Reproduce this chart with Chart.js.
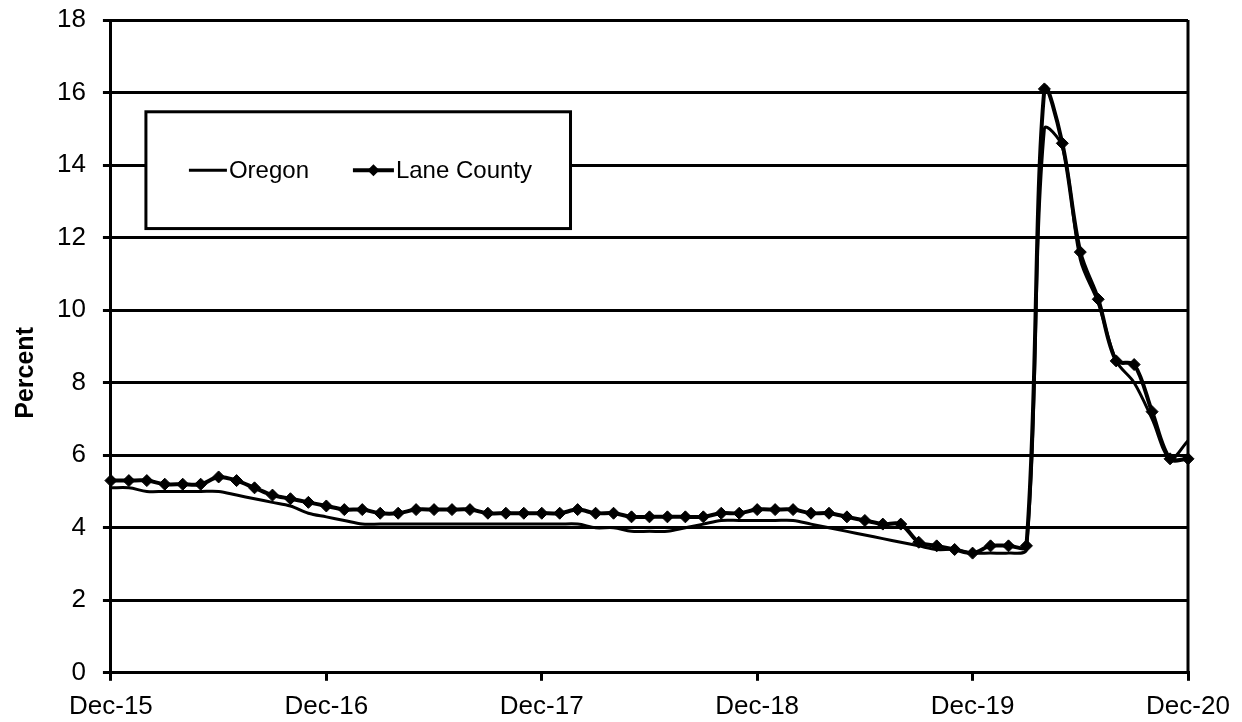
<!DOCTYPE html>
<html>
<head>
<meta charset="utf-8">
<script src="https://cdn.jsdelivr.net/npm/chart.js@4.4.1/dist/chart.umd.min.js"></script>
<style>
  html, body { margin: 0; padding: 0; background: #fff; }
  #wrap { position: relative; width: 1242px; height: 722px; }
</style>
</head>
<body>
<div id="wrap"><canvas id="chart"></canvas></div>
<script>
// monthly, Dec-15 .. Dec-20
var MONTHS = [
  'Dec-15',
  'Jan-16', 'Feb-16', 'Mar-16', 'Apr-16', 'May-16', 'Jun-16', 'Jul-16', 'Aug-16', 'Sep-16', 'Oct-16', 'Nov-16', 'Dec-16',
  'Jan-17', 'Feb-17', 'Mar-17', 'Apr-17', 'May-17', 'Jun-17', 'Jul-17', 'Aug-17', 'Sep-17', 'Oct-17', 'Nov-17', 'Dec-17',
  'Jan-18', 'Feb-18', 'Mar-18', 'Apr-18', 'May-18', 'Jun-18', 'Jul-18', 'Aug-18', 'Sep-18', 'Oct-18', 'Nov-18', 'Dec-18',
  'Jan-19', 'Feb-19', 'Mar-19', 'Apr-19', 'May-19', 'Jun-19', 'Jul-19', 'Aug-19', 'Sep-19', 'Oct-19', 'Nov-19', 'Dec-19',
  'Jan-20', 'Feb-20', 'Mar-20', 'Apr-20', 'May-20', 'Jun-20', 'Jul-20', 'Aug-20', 'Sep-20', 'Oct-20', 'Nov-20', 'Dec-20'
];

var TICK_LABELS = ['Dec-15', 'Dec-16', 'Dec-17', 'Dec-18', 'Dec-19', 'Dec-20'];

var OREGON = [
  5.1,
  5.1, 5.0, 5.0, 5.0, 5.0, 5.0, 4.9, 4.8, 4.7, 4.6, 4.4, 4.3,
  4.2, 4.1, 4.1, 4.1, 4.1, 4.1, 4.1, 4.1, 4.1, 4.1, 4.1, 4.1,
  4.1, 4.1, 4.0, 4.0, 3.9, 3.9, 3.9, 4.0, 4.1, 4.2, 4.2, 4.2,
  4.2, 4.2, 4.1, 4.0, 3.9, 3.8, 3.7, 3.6, 3.5, 3.4, 3.4, 3.3,
  3.3, 3.3, 3.4, 15.0, 14.5, 11.4, 10.2, 8.6, 8.0, 7.0, 5.9, 6.4
];

var LANE_COUNTY = [
  5.3,
  5.3, 5.3, 5.2, 5.2, 5.2, 5.4, 5.3, 5.1, 4.9, 4.8, 4.7, 4.6,
  4.5, 4.5, 4.4, 4.4, 4.5, 4.5, 4.5, 4.5, 4.4, 4.4, 4.4, 4.4,
  4.4, 4.5, 4.4, 4.4, 4.3, 4.3, 4.3, 4.3, 4.3, 4.4, 4.4, 4.5,
  4.5, 4.5, 4.4, 4.4, 4.3, 4.2, 4.1, 4.1, 3.6, 3.5, 3.4, 3.3,
  3.5, 3.5, 3.5, 16.1, 14.6, 11.6, 10.3, 8.6, 8.5, 7.2, 5.9, 5.9
];

var Y_MIN = 0;
var Y_MAX = 18;
var Y_STEP = 2;
var Y_TITLE = 'Percent';

var FONT = "Arial, 'Liberation Sans', sans-serif";
var INK = '#000000';

function isYearTick(i) {
  return TICK_LABELS.indexOf(MONTHS[i]) >= 0;
}

// right border of plot, the y title (sits a bit below centre in the original)
// and the boxed legend inside the plot area
var frameAndLegend = {
  id: 'frameAndLegend',
  afterDraw: function (chart) {
    var ctx = chart.ctx;
    var a = chart.chartArea;
    var w = a.right - a.left;
    var h = a.bottom - a.top;

    ctx.save();
    ctx.strokeStyle = INK;
    ctx.fillStyle = INK;
    ctx.lineWidth = 3;
    ctx.beginPath();
    ctx.moveTo(a.right, a.top);
    ctx.lineTo(a.right, a.bottom);
    ctx.stroke();

    ctx.save();
    ctx.translate(a.left - 85, a.top + 0.5406 * h);
    ctx.rotate(-Math.PI / 2);
    ctx.font = 'bold 25px ' + FONT;
    ctx.textAlign = 'center';
    ctx.textBaseline = 'middle';
    ctx.fillText(Y_TITLE, 0, 0);
    ctx.restore();

    var bx = a.left + 0.0325 * w;
    var by = a.top + 0.1406 * h;
    var bw = 0.3942 * w;
    var bh = 0.1789 * h;
    ctx.fillStyle = '#ffffff';
    ctx.fillRect(bx, by, bw, bh);
    ctx.lineWidth = 3;
    ctx.strokeRect(bx, by, bw, bh);

    var cy = by + bh / 2;
    ctx.font = '24px ' + FONT;
    ctx.textBaseline = 'middle';
    ctx.textAlign = 'left';
    ctx.fillStyle = INK;

    var ds = chart.data.datasets;
    // Oregon sample
    ctx.lineWidth = ds[0].borderWidth;
    ctx.beginPath();
    ctx.moveTo(bx + 43, cy);
    ctx.lineTo(bx + 81, cy);
    ctx.stroke();
    ctx.fillText(ds[0].label, bx + 83, cy + 1);

    // Lane County sample
    ctx.lineWidth = ds[1].borderWidth;
    ctx.beginPath();
    ctx.moveTo(bx + 207, cy);
    ctx.lineTo(bx + 248, cy);
    ctx.stroke();
    var mx = bx + 227.5, r = 6;
    ctx.beginPath();
    ctx.moveTo(mx, cy - r);
    ctx.lineTo(mx + r, cy);
    ctx.lineTo(mx, cy + r);
    ctx.lineTo(mx - r, cy);
    ctx.closePath();
    ctx.fill();
    ctx.fillText(ds[1].label, bx + 250, cy + 1);
    ctx.restore();
  }
};

new Chart(document.getElementById('chart').getContext('2d'), {
  type: 'line',
  data: {
    labels: MONTHS,
    datasets: [
      {
        label: 'Oregon',
        data: OREGON,
        borderColor: INK,
        backgroundColor: INK,
        borderWidth: 3,
        pointRadius: 0,
        tension: 0.33,
      },
      {
        label: 'Lane County',
        data: LANE_COUNTY,
        borderColor: INK,
        backgroundColor: INK,
        borderWidth: 4,
        pointStyle: 'rectRot',
        pointRadius: 6,
        pointBorderWidth: 1,
        pointBackgroundColor: INK,
        pointBorderColor: INK,
        tension: 0.33,
      },
    ],
  },
  options: {
    responsive: true,
    maintainAspectRatio: false,
    animation: false,
    devicePixelRatio: 1,
    // right padding wins over the half-width of the last x label
    layout: { padding: { left: 40, right: 54, top: 20, bottom: -10 } },
    plugins: {
      legend: { display: false },
      tooltip: { enabled: false },
    },
    scales: {
      x: {
        type: 'category',
        offset: false,
        border: { display: true, color: INK, width: 3 },
        grid: {
          drawOnChartArea: false,
          drawTicks: true,
          tickLength: 8,
          lineWidth: 3,
          color: function (c) {
            return isYearTick(c.index) ? INK : 'rgba(0,0,0,0)';
          },
          tickColor: function (c) {
            return isYearTick(c.index) ? INK : 'rgba(0,0,0,0)';
          },
        },
        ticks: {
          autoSkip: false,
          maxRotation: 0,
          minRotation: 0,
          padding: 10,
          color: INK,
          font: { family: FONT, size: 26 },
          callback: function (value, index) {
            return isYearTick(index) ? MONTHS[index] : '';
          },
        },
      },
      y: {
        min: Y_MIN,
        max: Y_MAX,
        border: { display: true, color: INK, width: 3 },
        grid: {
          color: INK,
          lineWidth: 3,
          tickLength: 8,
        },
        ticks: {
          stepSize: Y_STEP,
          padding: 17,
          color: INK,
          font: { family: FONT, size: 26 },
        },
        afterFit: function (scale) {
          // let layout.padding.top alone decide where the plot starts
          scale.paddingTop = 0;
        },
      },
    },
  },
  plugins: [frameAndLegend],
});
</script>
</body>
</html>
